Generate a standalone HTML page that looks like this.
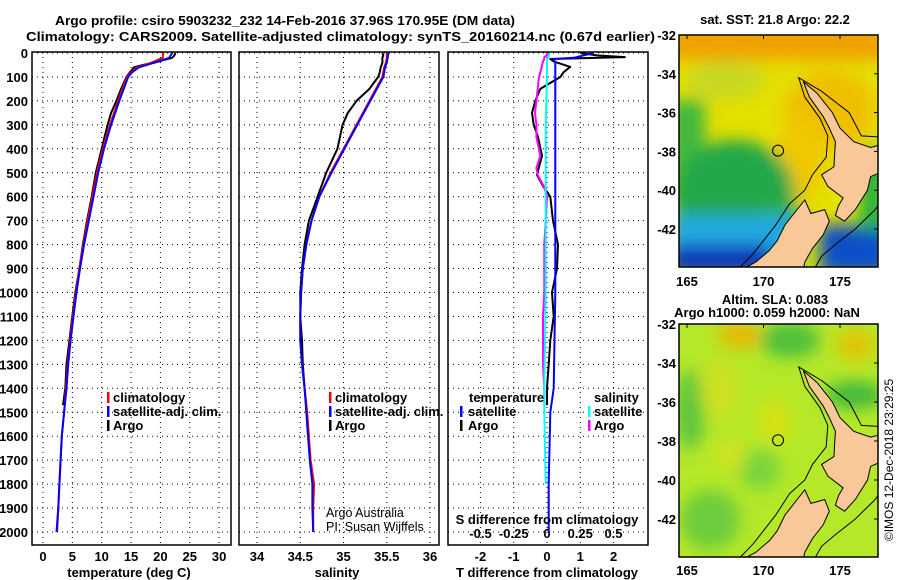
<!DOCTYPE html>
<html><head><meta charset="utf-8"><style>
body{margin:0;background:#fff;}
svg{display:block;font-family:"Liberation Sans",sans-serif;}
.b{font-weight:bold;font-size:13px;}
</style></head><body>
<svg id="fig" width="900" height="580" viewBox="0 0 900 580">
<defs>
<clipPath id="cm1"><rect x="679" y="35" width="199" height="232"/></clipPath>
<clipPath id="cm2"><rect x="679" y="324" width="199" height="233"/></clipPath>
<linearGradient id="g1top" x1="0" y1="0" x2="0" y2="1">
<stop offset="0" stop-color="#f09000"/><stop offset="0.12" stop-color="#f0b000" stop-opacity="0.9"/><stop offset="0.3" stop-color="#e8e000" stop-opacity="0"/></linearGradient>
<linearGradient id="g1blue" x1="0" y1="0" x2="0" y2="1"><stop offset="0" stop-color="#20b0d0" stop-opacity="0"/><stop offset="0.3" stop-color="#20a8e0"/><stop offset="1" stop-color="#0020a0"/></linearGradient>
<filter id="blur"><feGaussianBlur stdDeviation="8"/></filter>
</defs>
<g id="titles">
<text class="b" x="55" y="25" font-size="14.5" textLength="460" lengthAdjust="spacingAndGlyphs">Argo profile: csiro 5903232_232 14-Feb-2016 37.96S 170.95E (DM data)</text>
<text class="b" x="26" y="41" font-size="14.5" textLength="629" lengthAdjust="spacingAndGlyphs">Climatology: CARS2009. Satellite-adjusted climatology: synTS_20160214.nc (0.67d earlier)</text>
</g>
<g id="plots"></g>
<g id="maps"></g>
<text class="b" x="775" y="24" text-anchor="middle">sat. SST: 21.8 Argo: 22.2</text>
<text class="b" x="775" y="304" text-anchor="middle">Altim. SLA: 0.083</text>
<text class="b" x="767" y="317" text-anchor="middle">Argo h1000: 0.059 h2000: NaN</text>
<text x="893" y="460" font-size="12" text-anchor="middle" transform="rotate(-90 893 460)">©IMOS 12-Dec-2018 23:29:25</text>
</svg>
<script>
// ---- data ----
const depthArgo = [0,10,20,30,40,50,60,80,100,150,200,250,300,350,400,500,600,700,800,900,1000,1100,1200,1300,1400,1470];
const tempArgo  = [22.5,22.4,22,20.5,19,17,15.5,14.8,14.2,13.3,12.5,11.6,11,10.5,10,9,8.3,7.5,6.8,6.2,5.5,5,4.5,4,3.8,3.4];
const salArgo   = [35.45,35.46,35.45,35.45,35.45,35.44,35.43,35.42,35.4,35.3,35.15,35.05,34.99,34.96,34.93,34.8,34.7,34.6,34.55,34.52,34.5,34.5,34.52,34.53,34.55,34.57];
const depthClim = [0,20,40,60,80,100,200,300,400,500,600,700,800,900,1000,1100,1200,1300,1400,1500,1600,1700,1800,1900,2000];
const tempClim  = [20.5,20.4,18.5,16,15,14.3,12.8,11.4,10.2,9.2,8.4,7.6,6.9,6.2,5.6,5.1,4.6,4.2,3.9,3.6,3.2,3.0,2.8,2.6,2.4];
const tempSat   = [22,21.5,19,16.3,15.2,14.5,13.0,11.6,10.4,9.4,8.6,7.8,7.0,6.3,5.7,5.2,4.7,4.3,4.0,3.6,3.2,3.0,2.8,2.6,2.3];
const salClim   = [35.5,35.5,35.49,35.47,35.46,35.45,35.3,35.15,35.0,34.85,34.72,34.63,34.57,34.53,34.51,34.5,34.5,34.52,34.55,34.58,34.6,34.62,34.66,34.65,34.65];
const salSat    = [35.52,35.51,35.5,35.48,35.47,35.46,35.31,35.16,35.01,34.86,34.72,34.63,34.57,34.53,34.51,34.5,34.5,34.52,34.55,34.57,34.59,34.61,34.64,34.64,34.65];
const dTdepth   = [0,10,17,25,35,58,80,100,150,200,250,300,350,430,480,510,560,600,700,800,900,1000,1100,1200,1300,1400,1470];
const dTargo    = [1.0,1.5,2.34,0.1,0.2,0.7,0.5,0.4,-0.2,-0.35,-0.45,-0.4,-0.27,-0.15,-0.25,-0.3,-0.1,0.1,0.18,0.33,0.3,0.15,0.2,0.1,0.05,0.0,0.0];
const dSargo    = [0.0,0.0,-0.02,-0.02,-0.03,-0.04,-0.05,-0.06,-0.07,-0.08,-0.09,-0.08,-0.08,-0.05,-0.08,-0.07,-0.02,0.0,-0.01,-0.02,-0.02,-0.02,-0.03,-0.03,-0.03,-0.02,-0.02];
const dSatDepth = [0,20,25,40,100,300,600,1000,1400,1500,1800,2000];
const dTsat     = [1.4,0.8,0.2,0.25,0.25,0.25,0.25,0.25,0.2,0.1,0.05,0.05];
const dSsat     = [0.02,0.01,0.0,0.0,0.0,-0.01,-0.01,-0.01,-0.02,-0.02,-0.01,-0.01];
const depthTicks = [0,100,200,300,400,500,600,700,800,900,1000,1100,1200,1300,1400,1500,1600,1700,1800,1900,2000];
const tempTicks = [0,5,10,15,20,25,30];
const salTicks = [34,34.5,35,35.5,36];
const salTickLabels = ["34","34.5","35","35.5","36"];
const dTTicks = [-2,-1,0,1,2];
const dSTicks = [-0.5,-0.25,0,0.25,0.5];
const dSTickLabels = ["-0.5","-0.25","0","0.25","0.5"];
const lonTicks = [165,170,175];
const latTicks = [-32,-34,-36,-38,-40,-42];
const argoLon = 170.95, argoLat = -37.96;

// ---- scales ----
const yD = d => 53 + 0.2395*d;
const xT = t => 43 + t*5.87;
const xS = s => 257 + (s-34)*86.5;
const xdT = v => 547 + v*33.3;
const xdS = v => 547 + v*133;
const mx = lon => 687 + (lon-165)*15.3;
const my1 = lat => 35 + (-32-lat)*19.4;
const my2 = lat => 324 + (-32-lat)*19.5;

const NS="http://www.w3.org/2000/svg";
function mk(tag, attrs, parent){const e=document.createElementNS(NS,tag);for(const k in attrs)e.setAttribute(k,attrs[k]);parent.appendChild(e);return e;}
const plots=document.getElementById('plots');

function line(xs, ds, xf, color, name, w){
  const pts = xs.map((v,i)=>xf(v).toFixed(1)+','+yD(ds[i]).toFixed(1)).join(' ');
  const p=mk('polyline',{points:pts,fill:'none',stroke:color,'stroke-width':w||2,'stroke-linejoin':'round'},plots);
  
  
}
function panel(x0,x1,name,ticksX,xf,labels,showY){
  const g=mk('g',{},plots);
  
  
  depthTicks.forEach(d=>{
    mk('line',{x1:x0,x2:x1,y1:yD(d),y2:yD(d),stroke:'#000','stroke-dasharray':'1,4','stroke-width':1},g);
    if(showY){const t=mk('text',{x:x0-4,y:yD(d)+5,'text-anchor':'end',class:'b'},g);t.textContent=d;
      
      }
  });
  ticksX.forEach((v,i)=>{
    mk('line',{x1:xf(v),x2:xf(v),y1:52,y2:545,stroke:'#000','stroke-dasharray':'1,4','stroke-width':1},g);
    if(labels){const t=mk('text',{x:xf(v),y:561,'text-anchor':'middle',class:'b'},g);t.textContent=labels[i];
      
      }
  });
  mk('rect',{x:x0,y:52,width:x1-x0,height:493,fill:'none',stroke:'#000','stroke-width':1.5},g);
}
panel(32,231,'temperature-panel',tempTicks,xT,tempTicks,true);
panel(239,439,'salinity-panel',salTicks,xS,salTickLabels,false);
panel(448,648,'difference-panel',dTTicks,xdT,dTTicks,false);
dSTicks.forEach((v,i)=>{const t=mk('text',{x:xdS(v),y:538,'text-anchor':'middle',class:'b'},plots);t.textContent=dSTickLabels[i];
  
  });

line(tempArgo,depthArgo,xT,'#000','temp-argo-line');
line(tempClim,depthClim,xT,'#f00','temp-clim-line');
line(tempSat,depthClim,xT,'#00f','temp-sat-line');
line(salArgo,depthArgo,xS,'#000','sal-argo-line');
line(salClim,depthClim,xS,'#f00','sal-clim-line');
line(salSat,depthClim,xS,'#00f','sal-sat-line');
line(dTargo,dTdepth,xdT,'#000','tdiff-argo-line');
line(dSargo,dTdepth,xdS,'#f0f','sdiff-argo-line');
line(dTsat,dSatDepth,xdT,'#00f','tdiff-sat-line');
line(dSsat,dSatDepth.slice(0,11),xdS,'#0ff','sdiff-sat-line');

function txt(x,y,s,cls,anchor,name,size){const t=mk('text',{x:x,y:y,'text-anchor':anchor||'start'},plots);if(cls)t.setAttribute('class',cls);if(size)t.setAttribute('font-size',size);t.textContent=s;
  
  return t;}
function key(x,y,c){const r=mk('rect',{x:x,y:y-10,width:2.5,height:11,fill:c},plots);
  
  }
[[0,'climatology','#f00'],[1,'satellite-adj. clim.','#00f'],[2,'Argo','#000']].forEach(([i,s,c])=>{
  key(107,402+i*14,c);txt(113,402+i*14,s,'b','start','legend-entry');
  key(329,402+i*14,c);txt(335,402+i*14,s,'b','start','legend-entry');
});
txt(469,402,'temperature','b','start','legend-title-temp');
key(460,416,'#00f');txt(468,416,'satellite','b','start','legend-entry');
key(460,430,'#000');txt(468,430,'Argo','b','start','legend-entry');
txt(594,402,'salinity','b','start','legend-title-sal');
key(588,416,'#0ff');txt(594,416,'satellite','b','start','legend-entry');
key(588,430,'#f0f');txt(594,430,'Argo','b','start','legend-entry');
txt(547,524,'S difference from climatology','b','middle','s-diff-axis-title');
txt(129,577,'temperature (deg C)','b','middle','temp-axis-title');
txt(337,577,'salinity','b','middle','sal-axis-title');
txt(547,577,'T difference from climatology','b','middle','t-diff-axis-title');
txt(326,517,'Argo Australia','', 'start','credit-line1','12.5');
txt(326,531,'PI: Susan Wijffels','', 'start','credit-line2','12.5');

// ---- maps ----
const maps=document.getElementById('maps');
const northIsland=[[172.6,-34.4],[173.5,-35],[174.5,-36],[175,-36.8],[175.9,-37.5],[177,-37.8],[178,-37.6],[178.6,-37.8],[178.4,-38.6],[177.9,-39],[177,-39.3],[176.8,-40],[176,-41],[175.3,-41.6],[174.7,-41.3],[174.9,-40.8],[175.2,-40.4],[174.2,-39.8],[173.8,-39.2],[174.6,-38.8],[174.7,-37.5],[174.3,-36.8],[173.9,-36.2],[173,-35.2]];
const southIsland=[[172.7,-40.5],[173.1,-41.2],[174,-41],[174.3,-41.6],[173.9,-42.3],[173.2,-43],[172.7,-43.7],[172.5,-44.5],[168.3,-44.5],[168.8,-44],[169.5,-43.7],[170.4,-43.1],[170.9,-42.6],[171.4,-41.8],[172.1,-41.1]];
const shelf=[[172.3,-34.2],[173.8,-34.9],[175.6,-36],[176.4,-37.2],[178.5,-37.3],[178.5,-39.6],[177.3,-41],[176,-42],[174.7,-42.8],[173.8,-43.4],[173,-44.5],[167.8,-44.5],[169.3,-43.3],[170.8,-41.8],[171.7,-40.7],[172.7,-40],[173.2,-39.2],[174.1,-38.3],[174.2,-37.2],[173.7,-36.3],[172.7,-35.2]];
function drawMap(my,clipId,top,name,bg){
  const g=mk('g',{'clip-path':'url(#'+clipId+')'},maps);
  
  
  bg(g);
  const pp=a=>a.map(p=>mx(p[0]).toFixed(1)+','+my(p[1]).toFixed(1)).join(' ');
  mk('polygon',{points:pp(shelf),fill:'none',stroke:'#000','stroke-width':1},g);
  [northIsland,southIsland].forEach(a=>mk('polygon',{points:pp(a),fill:'#f8c898',stroke:'#000','stroke-width':1},g));
  const c=mk('circle',{cx:mx(argoLon),cy:my(argoLat),r:5.5,fill:'none',stroke:'#000','stroke-width':1},g);
  
  
  mk('rect',{x:679,y:top,width:199,height:my===my1?232:233,fill:'none',stroke:'#000','stroke-width':1.5},maps);
  lonTicks.forEach(l=>{const t=mk('text',{x:mx(l),y:(my===my1?286:575),'text-anchor':'middle',class:'b'},maps);t.textContent=l;
    
    
    mk('line',{x1:mx(l),x2:mx(l),y1:top,y2:top+4,stroke:'#000'},maps);});
  latTicks.forEach(l=>{const t=mk('text',{x:676,y:my(l)+5,'text-anchor':'end',class:'b'},maps);t.textContent=l;
    
    
    mk('line',{x1:874,x2:878,y1:my(l),y2:my(l),stroke:'#000'},maps);});
}
drawMap(my1,'cm1',35,'sst-map',g=>{
  mk('rect',{x:679,y:35,width:199,height:232,fill:'#e4e000'},g);
  const f=mk('g',{filter:'url(#blur)'},g);
  mk('rect',{x:670,y:25,width:220,height:35,fill:'#f0a000'},f);
  mk('ellipse',{cx:830,cy:110,rx:45,ry:40,fill:'#f0c000'},f);
  mk('ellipse',{cx:800,cy:160,rx:25,ry:40,fill:'#f0c800'},f);
  mk('ellipse',{cx:725,cy:80,rx:40,ry:20,fill:'#c8d820'},f);
  mk('rect',{x:670,y:100,width:35,height:110,fill:'#40b840'},f);
  mk('ellipse',{cx:735,cy:195,rx:60,ry:55,fill:'#20a848'},f);
  mk('ellipse',{cx:780,cy:230,rx:30,ry:25,fill:'#30b050'},f);
  mk('rect',{x:670,y:215,width:130,height:60,fill:'#20a8e0'},f);
  mk('rect',{x:670,y:245,width:100,height:30,fill:'#0838b8'},f);
  mk('rect',{x:820,y:225,width:70,height:50,fill:'#1050c8'},f);
  mk('rect',{x:860,y:150,width:25,height:80,fill:'#20b040'},f);
});
drawMap(my2,'cm2',324,'sla-map',g=>{
  mk('rect',{x:679,y:324,width:199,height:233,fill:'#b4e828'},g);
  const f=mk('g',{filter:'url(#blur)'},g);
  [[740,335,22,14,'#f0b000'],[855,345,20,16,'#e8c000'],[790,340,30,18,'#40b840'],[855,395,30,14,'#30b040'],[690,410,15,40,'#50c040'],[710,520,30,30,'#60c840'],[760,470,20,20,'#70d040'],[775,420,18,22,'#d8e010'],[720,390,20,30,'#d0e020'],[730,455,15,15,'#d8e020']].forEach(e=>
    mk('ellipse',{cx:e[0],cy:e[1],rx:e[2],ry:e[3],fill:e[4],opacity:0.85},f));
});
</script>
</body></html>
